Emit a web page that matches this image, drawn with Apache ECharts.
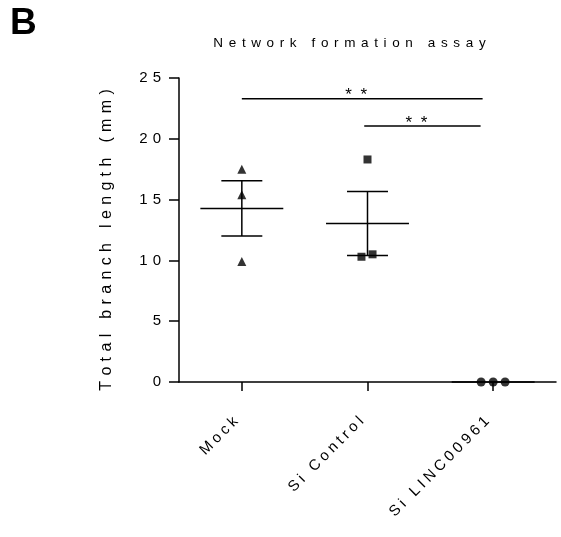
<!DOCTYPE html>
<html>
<head>
<meta charset="utf-8">
<script src="https://cdn.jsdelivr.net/npm/echarts@6/dist/echarts.min.js"></script>
<style>
html,body{margin:0;padding:0;background:#fff;}
#chart{width:561px;height:537px;}
</style>
</head>
<body>
<div id="chart"></div>
<script>
// ---- data ----
const categories = ['Mock', 'Si Control', 'Si LINC00961'];
const mockValues = [17.5, 15.4, 9.9];
const siControlValues = [18.3, 10.3, 10.5];
const siLincValues = [0, 0, 0];
const groupMeans = [14.27, 13.03, 0];
const groupSEM = [2.27, 2.63, 0];
const yTicks = [0, 5, 10, 15, 20, 25];
// horizontal scatter jitter (in category units) as plotted
const mockJitter = [0, 0, 0];
const siControlJitter = [0, -0.048, 0.04];
const siLincJitter = [-0.096, 0, 0.095];
// significance brackets: [from, to, height, label]
const brackets = [
  [0, 1.916, 23.3, '**'],
  [0.974, 1.90, 21.06, '**']
];
const titleText = 'Network formation assay';
const yName = 'Total branch length (mm)';

function spaced(s, sp) { return Array.from(String(s)).join(sp); }

const FONT = '"Liberation Sans", Arial, sans-serif';
const chart = echarts.init(document.getElementById('chart'), null, {renderer: 'canvas'});

function pts(vals, jit, i) { return vals.map((v, j) => [i + jit[j], v]); }

const option = {
  animation: false,
  backgroundColor: '#fff',
  grid: {left: 179, right: 5, top: 78, bottom: 155, containLabel: false},
  xAxis: [
    {
      type: 'category', data: categories, boundaryGap: true,
      axisLine: {show: true, onZero: false, lineStyle: {color: '#000', width: 1.5}},
      axisTick: {show: true, alignWithLabel: true, length: 9, lineStyle: {color: '#000', width: 1.5}},
      axisLabel: {rotate: 45, margin: 31, color: '#000', fontFamily: FONT, fontSize: 15,
        formatter: v => spaced(v, '\u2005') + '\u2002\u200A'},
      splitLine: {show: false}
    },
    {type: 'value', min: -0.5, max: 2.5, show: false}
  ],
  yAxis: {
    type: 'value', min: 0, max: 25, interval: 5,
    axisLine: {show: true, onZero: false, lineStyle: {color: '#000', width: 1.5}},
    axisTick: {show: true, length: 10, lineStyle: {color: '#000', width: 1.5}},
    axisLabel: {margin: 18, color: '#000', fontFamily: FONT, fontSize: 15,
      formatter: v => yTicks.indexOf(v) >= 0 ? spaced(v, '\u2004') : ''},
    splitLine: {show: false}
  },
  graphic: [
    {type: 'text', left: 10, top: 5, style: {text: 'B', font: 'bold 37px ' + FONT, fill: '#000'}},
    {type: 'text', x: 349.5, y: 43, style: {text: spaced(titleText, '\u2005\u2006'), font: '13.5px ' + FONT, fill: '#000', textAlign: 'center', textVerticalAlign: 'middle'}},
    {type: 'text', x: 107, y: 240, rotation: Math.PI / 2, style: {text: spaced(yName, '\u2004'), font: '16px ' + FONT, fill: '#000', textAlign: 'center', textVerticalAlign: 'middle'}}
  ],
  series: [
    {
      type: 'custom', xAxisIndex: 1, z: 3,
      data: categories.map((c, i) => [i, groupMeans[i], groupSEM[i]]),
      renderItem: function (params, api) {
        const x = api.value(0), m = api.value(1), s = api.value(2);
        const st = {stroke: '#000', lineWidth: 1.5};
        const a = api.coord([x - 0.33, m]), b = api.coord([x + 0.33, m]);
        const children = [{type: 'line', shape: {x1: a[0], y1: a[1], x2: b[0], y2: b[1]}, style: st}];
        if (s > 0) {
          const up = api.coord([x, m + s]), lo = api.coord([x, m - s]);
          const cl = api.coord([x - 0.163, m + s]), cr = api.coord([x + 0.163, m + s]);
          const dl = api.coord([x - 0.163, m - s]), dr = api.coord([x + 0.163, m - s]);
          children.push({type: 'line', shape: {x1: up[0], y1: up[1], x2: lo[0], y2: lo[1]}, style: st});
          children.push({type: 'line', shape: {x1: cl[0], y1: cl[1], x2: cr[0], y2: cr[1]}, style: st});
          children.push({type: 'line', shape: {x1: dl[0], y1: dl[1], x2: dr[0], y2: dr[1]}, style: st});
        }
        return {type: 'group', children: children};
      }
    },
    {
      type: 'custom', xAxisIndex: 1, z: 3,
      data: brackets,
      renderItem: function (params, api) {
        const a = api.coord([api.value(0), api.value(2)]);
        const b = api.coord([api.value(1), api.value(2)]);
        return {type: 'group', children: [
          {type: 'line', shape: {x1: a[0], y1: a[1], x2: b[0], y2: b[1]}, style: {stroke: '#000', lineWidth: 1.5}},
          {type: 'text', x: (a[0] + b[0]) / 2 - 6, y: a[1] - 3, style: {text: '*\u2002*', font: '17px ' + FONT, fill: '#000', textAlign: 'center', textVerticalAlign: 'middle'}}
        ]};
      }
    },
    {type: 'scatter', xAxisIndex: 1, symbol: 'triangle', symbolSize: 9, itemStyle: {color: '#000'}, z: 4,
      data: pts(mockValues, mockJitter, 0)},
    {type: 'scatter', xAxisIndex: 1, symbol: 'rect', symbolSize: 8, itemStyle: {color: '#000'}, z: 4,
      data: pts(siControlValues, siControlJitter, 1)},
    {type: 'scatter', xAxisIndex: 1, symbol: 'circle', symbolSize: 9, itemStyle: {color: '#000'}, z: 4, clip: false,
      data: pts(siLincValues, siLincJitter, 2)}
  ]
};
chart.setOption(option);
</script>
</body>
</html>
